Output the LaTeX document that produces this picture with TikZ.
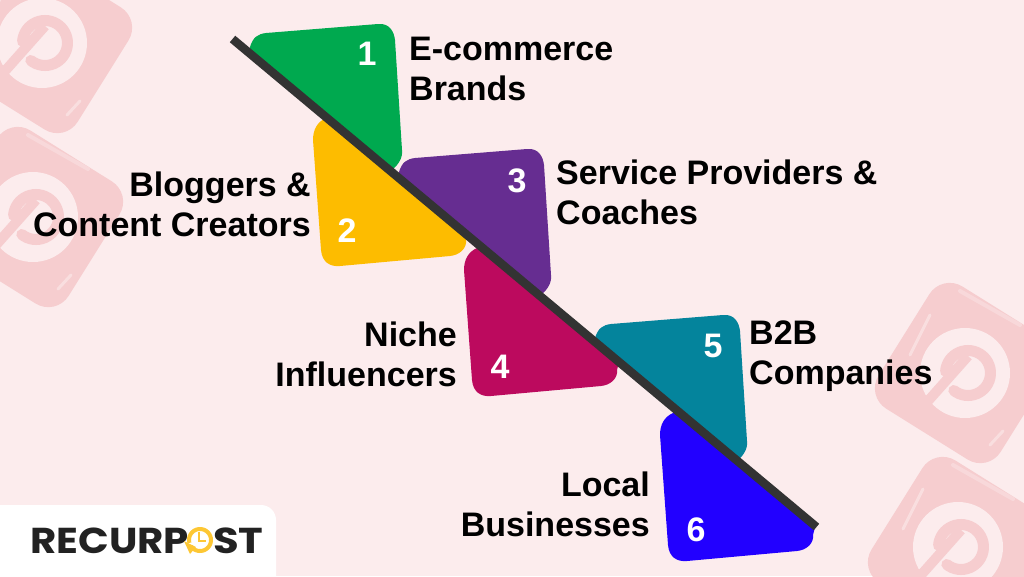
\documentclass[tikz,border=0pt]{standalone}
\usepackage{fontspec}
\setmainfont{Liberation Sans}
\newfontfamily\logofont{Poppins}
\definecolor{bgpink}{HTML}{FCECED}
\definecolor{iconpink}{HTML}{F6CDCF}
\definecolor{iconlight}{HTML}{F9DEDF}
\definecolor{cgreen}{HTML}{00A94F}
\definecolor{cyellow}{HTML}{FDBC00}
\definecolor{cpurple}{HTML}{662D91}
\definecolor{ccrimson}{HTML}{BC0A5E}
\definecolor{cteal}{HTML}{04849C}
\definecolor{cblue}{HTML}{2200FF}
\definecolor{cline}{HTML}{333333}
\definecolor{clogo}{HTML}{222222}
\definecolor{cclock}{HTML}{FDC734}
\tikzset{
  label text/.style={font=\bfseries\fontsize{34}{40}\selectfont,text=black,inner sep=0pt},
  left label/.style={label text,anchor=east,align=right},
  right label/.style={label text,anchor=west,align=left},
  num/.style={font=\bfseries\fontsize{34}{34}\selectfont,text=white,inner sep=0pt},
  logo text/.style={font=\logofont\bfseries\fontsize{36}{36}\selectfont,text=clogo,inner sep=0pt,anchor=base west},
}
\newcommand{\upperleaf}[2]{%
  \fill[#2,shift={#1}] (250,47) .. controls (253,37) and (258,34) .. (266,33)
    -- (378,24) .. controls (390,23) and (394,32) .. (395,40)
    -- (402,150) .. controls (403,158) and (398,165) .. (392,170)
    -- (392,174) -- (250,54) -- cycle;}
\newcommand{\lowerleaf}[2]{%
  \fill[#2,shift={#1}] (326,118) .. controls (317,122) and (313,130) .. (313,140)
    -- (321,250) .. controls (322,262) and (330,267) .. (340,266)
    -- (450,256) .. controls (460,255) and (467,248) .. (466,240)
    -- (468,232) -- (326,114) -- cycle;}
\newcommand{\pinicon}[2]{%
  \begin{scope}[shift={(#1,#2)}]
    \fill[iconpink,rotate=-32,rounded corners=24] (-72,-72) rectangle (72,72);
    \draw[iconlight,line width=3,line cap=round] (-35,-58) -- (-55,-18);
    \draw[iconlight,line width=3,line cap=round] (38,58) -- (25,72);
    \draw[iconlight,line width=4,line cap=round,opacity=.7] (-5,-82) -- (55,-48);
    \fill[bgpink] (0,0) circle[radius=45];
    \draw[iconpink,line width=11,line cap=round] plot[domain=-176:129,samples=40] ({3+22.5*cos(\x)},{22.5*sin(\x)});
    \draw[iconpink,line width=10] (3,-17) -- (-37,28);
  \end{scope}}
\begin{document}
\begin{tikzpicture}[x=1pt,y=-1pt]
  \useasboundingbox (0,0) rectangle (1024,576);
  \begin{scope}
    \clip (0,0) rectangle (1024,576);
    \fill[bgpink] (0,0) rectangle (1024,576);
    \pinicon{42}{43}
    \pinicon{33}{217}
    \pinicon{965}{373}
    \pinicon{958}{547}
    \fill[white,rounded corners=15] (-20,505) -- (276,505) -- (276,600) -- (-20,600) -- cycle;
  \end{scope}

  \upperleaf{(0,0)}{cgreen}
  \lowerleaf{(0,0)}{cyellow}
  \upperleaf{(149,125)}{cpurple}
  \lowerleaf{(151,130)}{ccrimson}
  \upperleaf{(345,291)}{cteal}
  \lowerleaf{(347,295)}{cblue}

  \coordinate (ls) at (232.5,39);
  \coordinate (le) at (816.5,527);
  \draw[cline,line width=8.5] (ls) -- (le);

  \node[num] (n1) at (367,54) {1};
  \node[num] (n2) at (347,231) {2};
  \node[num] (n3) at (517,181) {3};
  \node[num] (n4) at (500,367) {4};
  \node[num] (n5) at (713,346) {5};
  \node[num] (n6) at (696,530) {6};

  \node[right label] (t1) at (409,69) {E-commerce\\Brands};
  \node[left label] (t2) at (311,204) {Bloggers \&\\Content Creators};
  \node[right label] (t3) at (556,192.5) {Service Providers \&\\Coaches};
  \node[left label] (t4) at (457,354) {Niche\\Influencers};
  \node[right label] (t5) at (749,356) {B2B\\Companies};
  \node[left label] (t6) at (650,504.5) {Local\\Businesses};

  \node[logo text,xscale=1.12] (logo1) at (30,553) {RECURP};
  \node[logo text,xscale=1.16] (logo2) at (213,553) {ST};
  \draw[cclock,line width=4] plot[domain=-195:145,samples=40] ({200+11*cos(\x)},{540+11*sin(\x)});
  \fill[cclock] (184,541) -- (196,547) -- (190,554) -- cycle;
  \draw[cclock,line width=2] (199,532) -- (199,541) -- (206,541);
\end{tikzpicture}
\end{document}
